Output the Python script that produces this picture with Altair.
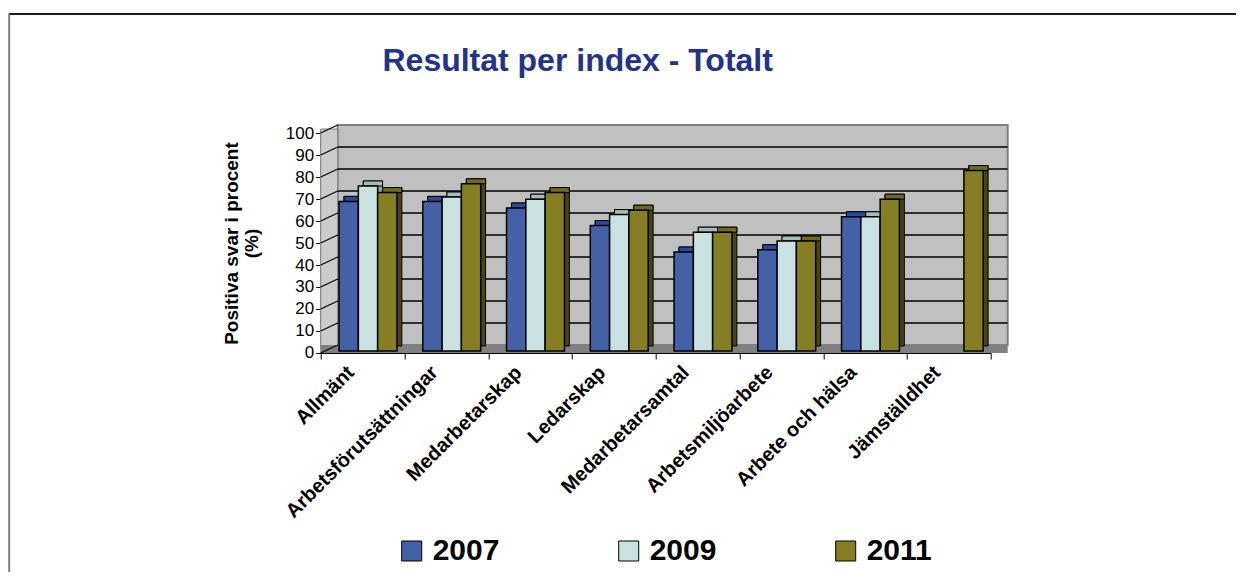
import altair as alt
import pandas as pd

categories = ["Allmänt", "Arbetsförutsättningar", "Medarbetarskap", "Ledarskap",
              "Medarbetarsamtal", "Arbetsmiljöarbete", "Arbete och hälsa", "Jämställdhet"]
years = ["2007", "2009", "2011"]
v2007 = [68, 68, 65, 57, 45, 46, 61, None]
v2009 = [75, 70, 69, 62, 54, 50, 61, None]
v2011 = [72, 76, 72, 64, 54, 50, 69, 82]
y_ticks = [0, 10, 20, 30, 40, 50, 60, 70, 80, 90, 100]
grid_values = [10, 20, 30, 40, 50, 60, 70, 80, 90]

front_colors = ["#4461a8", "#c9e1e1", "#857e22"]
top_colors = ["#2d4b9e", "#a2bcbc", "#6f6a1c"]
side_colors = ["#263a72", "#8aa3a3", "#47431a"]

FONT = "Liberation Sans"

rows = []
for series, year in zip([v2007, v2009, v2011], years):
    for c, v in zip(categories, series):
        if v is not None:
            rows.append({"cat": c, "year": year, "value": v})
df = pd.DataFrame(rows)
wall_df = pd.DataFrame({"lo": [0], "hi": [100]})
grid_df = pd.DataFrame({"v": grid_values})
tick_df = pd.DataFrame({"v": y_ticks})
one = pd.DataFrame({"k": [0]})

yscale = alt.Scale(domain=[0, 100], nice=False)
xscale = alt.Scale(paddingInner=0, paddingOuter=0)

yaxis = alt.Axis(values=y_ticks, title=["Positiva svar i procent", "(%)"],
                 titleFontSize=19, titleFontWeight="bold", titleColor="black",
                 titlePadding=24, titleLineHeight=20,
                 labelFontSize=17, labelColor="black", labelPadding=2,
                 tickSize=5, tickColor="black", domainColor="black", grid=False)
xaxis = alt.Axis(title=None, labelAngle=-45, labelAlign="right", labelBaseline="middle",
                 labelFontSize=20, labelFontWeight="bold", labelColor="black",
                 labelPadding=10, labelOffset=-12, labelLimit=400, tickSize=6,
                 tickColor="black", domainColor="black", tickBand="extent", zindex=1)

D = 5      # bar depth in px
BY = -2


def offenc(align):
    return alt.XOffset("year:N", sort=years,
                       scale=alt.Scale(paddingInner=0, paddingOuter=0.67, align=align))


def yenc(field):
    return alt.Y(field, scale=yscale, axis=yaxis)


# back wall
wall = alt.Chart(wall_df).mark_rect(
    fill="#c0c0c0", stroke="#808080", strokeWidth=2,
    xOffset=17, x2Offset=17, yOffset=-8, y2Offset=-8
).encode(x=alt.value(0), x2=alt.value("width"), y=yenc("hi:Q"), y2="lo:Q")

side_wall = alt.Chart(wall_df).mark_rect(
    fill="#cbcbcb", stroke="#808080", strokeWidth=1,
    yOffset=-4, y2Offset=-4
).encode(x=alt.value(0), x2=alt.value(17), y=yenc("hi:Q"), y2="lo:Q")

floor = alt.Chart(wall_df).mark_rect(
    fill="#808080", yOffset=-8, y2Offset=0, x2Offset=17
).encode(x=alt.value(0), x2=alt.value("width"), y=yenc("lo:Q"), y2="lo:Q")

grid = alt.Chart(grid_df).mark_rule(
    color="black", strokeWidth=1.5, xOffset=17, x2Offset=17, yOffset=-8
).encode(x=alt.value(0), x2=alt.value("width"), y=yenc("v:Q"))

diag = alt.Chart(tick_df).mark_rule(
    color="black", strokeWidth=1.2, y2Offset=-8
).encode(x=alt.value(0), x2=alt.value(17), y=yenc("v:Q"), y2="v:Q")

xenc = alt.X("cat:N", sort=categories, scale=xscale, axis=xaxis)

depth = alt.Chart(df).mark_bar(
    stroke="black", strokeWidth=1, yOffset=BY - D, y2Offset=BY - D
).encode(x=xenc, xOffset=offenc(0.90), y=yenc("value:Q"),
         color=alt.Color("year:N", scale=alt.Scale(domain=years, range=side_colors), legend=None))

top = alt.Chart(df).mark_bar(
    stroke="black", strokeWidth=1, yOffset=BY - D, y2Offset=BY
).encode(x=xenc, xOffset=offenc(0.90), y=yenc("value:Q"), y2="value:Q",
         color=alt.Color("year:N", scale=alt.Scale(domain=years, range=top_colors), legend=None))

front = alt.Chart(df).mark_bar(
    stroke="black", strokeWidth=1.5, yOffset=BY, y2Offset=BY
).encode(x=xenc, xOffset=offenc(0.71), y=yenc("value:Q"),
         color=alt.Color("year:N", scale=alt.Scale(domain=years, range=front_colors),
                         legend=alt.Legend(title=None, orient="none", legendX=76, legendY=403,
                                           direction="horizontal", symbolType="square",
                                           symbolSize=400, symbolStrokeColor="black",
                                           symbolStrokeWidth=1, symbolOpacity=1,
                                           labelFontSize=30, labelFontWeight="bold",
                                           labelColor="black", columnPadding=114,
                                           labelOffset=6)))

frame_top = alt.Chart(one).mark_rule(color="#1a1a1a", strokeWidth=2).encode(
    x=alt.value(-312), x2=alt.value(940), y=alt.value(-119))
frame_left = alt.Chart(one).mark_rule(color="#808080", strokeWidth=2).encode(
    x=alt.value(-311.5), y=alt.value(-119), y2=alt.value(460))

chart = alt.layer(
    wall, side_wall, floor, grid, diag, depth, top, front, frame_top, frame_left
).resolve_scale(color="independent", xOffset="independent").properties(
    width=670, height=220,
    autosize=alt.AutoSizeParams(type="none"),
    padding={"left": 312.7, "top": 125, "right": 245, "bottom": 219},
    title=alt.TitleParams("Resultat per index - Totalt", fontSize=32, font=FONT,
                          fontWeight="bold", color="#22338a", anchor="middle",
                          dx=-78, offset=-65),
    background="white",
).configure_view(stroke=None).configure_axis(
    labelFont=FONT, titleFont=FONT
).configure_legend(labelFont=FONT)

chart.save("out.html", embed_options={"renderer": "svg", "actions": False})
